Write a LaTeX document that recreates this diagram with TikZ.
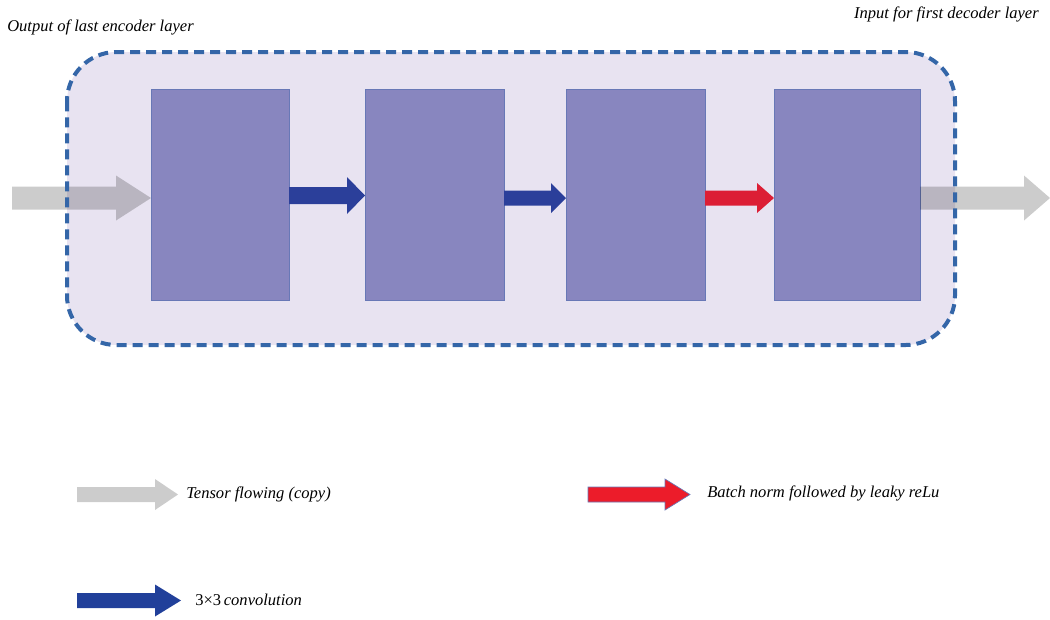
\documentclass[tikz,border=0pt]{standalone}
\usepackage{fontspec}
\setmainfont{Liberation Serif}
\usetikzlibrary{calc}
\definecolor{lav}{HTML}{E8E3F1}
\definecolor{dashblue}{HTML}{3466A8}
\definecolor{boxfill}{HTML}{8886BF}
\definecolor{boxline}{HTML}{6878B6}
\definecolor{convblue}{HTML}{2B3F9A}
\definecolor{legblue}{HTML}{21409A}
\definecolor{bnred}{HTML}{DC1E35}
\definecolor{legred}{HTML}{EC1C2A}
\definecolor{copygray}{HTML}{CCCCCC}

% horizontal block arrow: #1 tail, #2 tip, #3 half shaft, #4 half head, #5 head length (px), #6 style
\newcommand\blockarrow[6]{%
  \path[#6] let \p1=(#1), \p2=(#2) in
    (\x1,{\y1+#3*0.75pt}) -- ({\x2-#5*0.75pt},{\y1+#3*0.75pt}) --
    ({\x2-#5*0.75pt},{\y1+#4*0.75pt}) -- (\x2,\y1) --
    ({\x2-#5*0.75pt},{\y1-#4*0.75pt}) -- ({\x2-#5*0.75pt},{\y1-#3*0.75pt}) --
    (\x1,{\y1-#3*0.75pt}) -- cycle;}

\tikzset{
  blk/.style={draw=boxline, line width=0.6pt, fill=boxfill, anchor=north west,
    inner sep=0pt, outer sep=0pt, minimum height=158.25pt},
  label/.style={font=\fontsize{12.4}{14}\selectfont\itshape, inner sep=0pt, anchor=base west},
  copyarrow/.style={fill=black, fill opacity=0.2},
  legcopy/.style={fill=copygray},
  conv/.style={fill=convblue},
  legconv/.style={fill=legblue},
  bn/.style={fill=bnred},
  legbn/.style={fill=legred, draw=boxline, line width=0.5pt},
  group/.style={draw=dashblue, line width=3pt, dash pattern=on 7.5pt off 4.5pt,
    rounded corners=37pt}
}

\begin{document}
\begin{tikzpicture}[x=0.75pt,y=-0.75pt]
\useasboundingbox (0,0) rectangle (1050,619);

% group background
\fill[lav, rounded corners=37pt] (67,52) rectangle (955,345);

% layer blocks
\node[blk, minimum width=103.5pt]  (b1) at (151,89) {};
\node[blk, minimum width=104.25pt] (b2) at (365,89) {};
\node[blk, minimum width=104.25pt] (b3) at (566,89) {};
\node[blk, minimum width=109.5pt]  (b4) at (774,89) {};

% free ends of the pass-through arrows
\coordinate (in)  at (12,198);
\coordinate (out) at (1050,198);
\coordinate (c1)  at (0,195.5);

\blockarrow{in}{b1.west|-in}{11.5}{22.5}{35}{copyarrow}
\blockarrow{b1.east|-c1}{b2.west|-c1}{8.5}{18.5}{18}{conv}
\blockarrow{b2.east|-in}{b3.west|-in}{7.5}{15}{15}{conv}
\blockarrow{b3.east|-in}{b4.west|-in}{7.5}{15}{17}{bn}
\blockarrow{b4.east|-out}{out}{11.5}{22.5}{26}{copyarrow}

% dashed group outline
\draw[group] (67,52) rectangle (955,345);

% captions
\node[label] (enc) at (7,31) {Output of last encoder layer};
\node[label, anchor=base east] (dec) at (1039,18) {Input for first decoder layer};

% legend
\coordinate (l1a) at (77,494.5);  \coordinate (l1b) at (178,494.5);
\coordinate (l2a) at (588,494.5); \coordinate (l2b) at (690,494.5);
\coordinate (l3a) at (77,600.5);  \coordinate (l3b) at (181,600.5);
\blockarrow{l1a}{l1b}{7.5}{15.5}{23}{legcopy}
\blockarrow{l2a}{l2b}{7.5}{15.5}{25}{legbn}
\blockarrow{l3a}{l3b}{7.5}{16}{26}{legconv}
\node[label] (t1) at (186,498) {Tensor flowing (copy)};
\node[label] (t2) at (707,497) {Batch norm followed by leaky reLu};
\node[label] (t3) at (195,605) {\upshape 3×3\,\itshape convolution};
\end{tikzpicture}
\end{document}
